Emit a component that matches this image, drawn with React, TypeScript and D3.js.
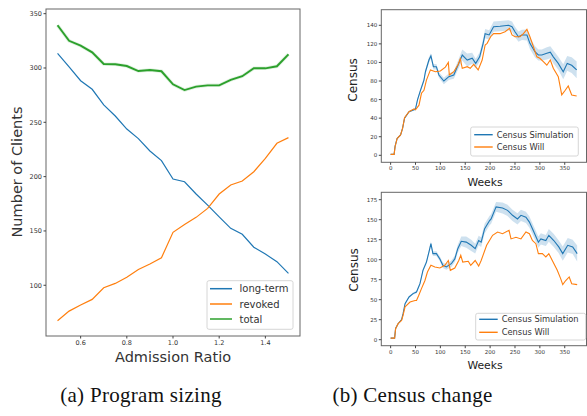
import React, { useEffect, useRef } from 'react';
import * as d3 from 'd3';

// (a) program sizing
const admissionRatio = [0.5, 0.55, 0.6, 0.65, 0.7, 0.75, 0.8, 0.85, 0.9, 0.95, 1.0, 1.05, 1.1, 1.15, 1.2, 1.25, 1.3, 1.35, 1.4, 1.45, 1.5];
const longTerm = [313.5, 301, 288.3, 280.4, 266, 255.8, 243.8, 235, 223.6, 214.7, 197.8, 195.3, 184, 173.8, 163, 152.4, 146.9, 135, 128.7, 121.7, 111];
const revoked = [67.3, 76.2, 81.8, 87, 97.7, 101.7, 107.3, 114.6, 119.5, 125.3, 148.7, 156, 162.5, 170.8, 184, 192.3, 196, 204.5, 216.8, 230.7, 235.9];
const total = [339.3, 325, 320.5, 314.4, 303.7, 303.4, 301.8, 297.2, 298.2, 297, 285, 279.7, 282.8, 284, 284, 289, 292.4, 299.7, 299.7, 301.6, 312.6];
const sizingTicksX = [0.6, 0.8, 1.0, 1.2, 1.4];
const sizingTicksY = [100, 150, 200, 250, 300, 350];

// (b) census change: [week, value, band half-width]
const simTop: number[][] = [
  [0, 1, 0], [7, 1, 0], [9, 10, 0], [13, 18, 0.5], [20, 22, 0.5], [24, 29, 0.5], [28, 40, 1], [37, 47, 1],
  [47, 49, 1], [50, 50, 1.5], [54, 59.6, 2], [60, 70, 2], [67, 81, 2.5], [70, 90, 2.5], [77, 102.6, 3],
  [81, 107, 3], [86, 95.4, 3], [92, 95.4, 3], [97, 86.5, 3], [107, 80, 3.5], [117, 84.7, 3.5], [127, 86.5, 4],
  [137, 99, 5], [144, 108, 6], [154, 102.6, 7], [164, 104.5, 6], [171, 99, 5], [179, 106, 5], [186, 120.6, 5],
  [190, 131, 5], [198, 129.6, 5], [207, 138.5, 5.5], [220, 139, 5.5], [237, 140, 5.5], [244, 138.5, 5.5],
  [250, 133, 5.5], [257, 127.7, 5.5], [264, 129.6, 5.5], [274, 129.6, 6], [280, 120.6, 6], [290, 111.6, 6],
  [297, 108, 6], [304, 108, 6], [314, 109.8, 6.5], [321, 111, 6.5], [327, 106, 7], [337, 99, 7], [347, 90, 8],
  [355, 99, 8], [364, 97, 8.5], [374, 92, 9],
];
const willTop: number[][] = [
  [0, 1], [7, 1], [9, 9.3], [13, 18], [20, 22], [24, 29], [28, 40.5], [37, 47], [47, 50], [50, 49], [57, 54],
  [62, 66.8], [67, 70], [72, 81], [80, 92], [90, 90], [100, 90.8], [110, 95], [116, 100], [118, 86.5], [127, 90],
  [136, 98], [140, 104], [144, 93.7], [154, 95.4], [160, 93.7], [167, 98], [176, 91.9], [184, 102.6], [190, 118.8],
  [194, 120.6], [201, 127.7], [207, 131], [220, 131], [230, 133], [239, 136.7], [244, 129.6], [250, 127.7],
  [260, 127.7], [267, 131], [274, 135.7], [280, 127.7], [287, 117], [294, 106], [300, 104.5], [307, 100.8],
  [314, 97], [321, 102.6], [327, 93.7], [337, 84.7], [344, 65], [351, 70], [357, 74.6], [364, 65], [374, 63.9],
];
const simBottom: number[][] = [
  [0, 2, 0], [8, 2, 0], [10, 14, 0.5], [15, 20, 0.5], [22, 25, 0.5], [25, 32.5, 1], [29, 45, 1], [37, 53.4, 1],
  [45, 57.6, 1.5], [52, 59.6, 1.5], [59, 70, 2], [65, 86.7, 2], [72, 97, 2.5], [77, 109.6, 2.5], [81, 120, 3],
  [85, 107.6, 3], [92, 107.6, 3], [99, 101, 3], [105, 93, 3.5], [112, 90.9, 3.5], [122, 95, 4], [129, 101, 4],
  [135, 113.8, 5], [142, 123, 6], [152, 122, 7], [162, 118, 7], [170, 113.8, 6], [177, 124, 6], [182, 122, 6],
  [189, 138.8, 6], [199, 149, 6], [202, 151, 6], [212, 166, 6], [225, 164.6, 7], [235, 161.7, 7], [245, 155.5, 7],
  [255, 151, 7], [262, 155.5, 7], [272, 153, 7], [279, 147, 7], [288, 134.6, 7], [297, 122, 7], [302, 126, 7],
  [312, 124, 7], [318, 130.5, 8], [328, 124, 8], [338, 116, 8], [346, 107.6, 9], [356, 118, 9], [366, 116, 9],
  [375, 107.6, 10],
];
const willBottom: number[][] = [
  [0, 2], [8, 2], [10, 13.8], [15, 20], [22, 24], [25, 30.5], [29, 41], [39, 47], [49, 49], [52, 49], [56, 54.6],
  [62, 63.8], [69, 74], [74, 84.6], [81, 93], [89, 90.9], [99, 89.6], [109, 93], [116, 99], [120, 86.7],
  [129, 89.6], [137, 99], [141, 105.5], [145, 97], [156, 98], [161, 93], [170, 99], [177, 92], [182, 99],
  [193, 118], [205, 130.5], [215, 134.6], [225, 132.5], [238, 136.7], [242, 126], [252, 128], [262, 126],
  [272, 134.6], [279, 132.5], [285, 124], [292, 120], [297, 107.6], [305, 107.6], [312, 103.4], [318, 107.6],
  [325, 99], [335, 86.7], [342, 76], [346, 68.8], [352, 74], [359, 78.4], [364, 70], [375, 68.8],
];
const weekTicks = [0, 50, 100, 150, 200, 250, 300, 350];
const censusTicksTop = [0, 20, 40, 60, 80, 100, 120, 140];
const censusTicksBottom = [0, 25, 50, 75, 100, 125, 150, 175];

const BLUE = '#1f77b4';
const ORANGE = '#ff7f0e';
const GREEN = '#2ca02c';
const FONT = 'DejaVu Sans';

const App = () => {
  const ref = useRef<SVGSVGElement>(null);

  useEffect(() => {
    const svg = d3.select(ref.current);
    svg.selectAll('*').remove();

    // draws axes frame + ticks
    const frame = (g: any, x: any, y: any, xt: number[], yt: number[], fs: number, fmtX: (v: number) => string) => {
      const [x0, x1] = x.range();
      const [y0, y1] = y.range();
      g.append('rect').attr('x', x0).attr('y', y1).attr('width', x1 - x0).attr('height', y0 - y1)
        .attr('fill', 'none').attr('stroke', '#666').attr('stroke-width', 1);
      xt.forEach(t => {
        g.append('line').attr('x1', x(t)).attr('x2', x(t)).attr('y1', y0).attr('y2', y0 + 2.5).attr('stroke', '#444');
        g.append('text').attr('x', x(t)).attr('y', y0 + 4 + fs * 0.75).attr('text-anchor', 'middle')
          .attr('font-size', fs).attr('fill', '#333').text(fmtX(t));
      });
      yt.forEach(t => {
        g.append('line').attr('x1', x0 - 2.5).attr('x2', x0).attr('y1', y(t)).attr('y2', y(t)).attr('stroke', '#444');
        g.append('text').attr('x', x0 - 4).attr('y', y(t) + fs * 0.36).attr('text-anchor', 'end')
          .attr('font-size', fs).attr('fill', '#333').text(t);
      });
    };

    const legend = (g: any, bx: number, by: number, bw: number, bh: number, rows: any[], ys: number[], lx0: number, lx1: number, tx: number, fs: number) => {
      g.append('rect').attr('x', bx).attr('y', by).attr('width', bw).attr('height', bh).attr('rx', 2)
        .attr('fill', 'white').attr('fill-opacity', 0.85).attr('stroke', '#ccc').attr('stroke-width', 0.8);
      rows.forEach((r, i) => {
        g.append('line').attr('x1', lx0).attr('x2', lx1).attr('y1', ys[i]).attr('y2', ys[i])
          .attr('stroke', r.color).attr('stroke-width', r.w);
        g.append('text').attr('x', tx).attr('y', ys[i] + fs * 0.36).attr('font-size', fs).attr('fill', '#333').text(r.label);
      });
    };

    // ---- (a) program sizing
    const ga = svg.append('g').attr('font-family', FONT);
    const xa = d3.scaleLinear().domain([0.45, 1.55]).range([46, 300]);
    const ya = d3.scaleLinear().domain([53.3, 354.3]).range([336, 9]);
    const lineA = (vals: number[]) => d3.line<number>().x((d, i) => xa(admissionRatio[i])).y(d => ya(d))(vals);
    ga.append('path').attr('d', lineA(total)).attr('fill', 'none').attr('stroke', GREEN).attr('stroke-opacity', 0.15).attr('stroke-width', 3.5);
    ga.append('path').attr('d', lineA(longTerm)).attr('fill', 'none').attr('stroke', BLUE).attr('stroke-width', 1.2);
    ga.append('path').attr('d', lineA(revoked)).attr('fill', 'none').attr('stroke', ORANGE).attr('stroke-width', 1.2);
    ga.append('path').attr('d', lineA(total)).attr('fill', 'none').attr('stroke', GREEN).attr('stroke-width', 1.9);
    frame(ga, xa, ya, sizingTicksX, sizingTicksY, 6.5, v => v.toFixed(1));
    ga.append('text').attr('x', 173).attr('y', 362).attr('text-anchor', 'middle').attr('font-size', 14.5).attr('fill', '#333').text('Admission Ratio');
    ga.append('text').attr('transform', 'translate(22,172) rotate(-90)').attr('text-anchor', 'middle').attr('font-size', 14.5).attr('fill', '#333').text('Number of Clients');
    legend(ga, 207, 280.7, 86, 48.6, [
      { label: 'long-term', color: BLUE, w: 1.5 },
      { label: 'revoked', color: ORANGE, w: 1.5 },
      { label: 'total', color: GREEN, w: 1.5 },
    ], [288.7, 304, 319], 210, 232, 239.5, 10);

    // ---- (b) census panels
    const census = (sim: number[][], will: number[][], yDom: number[], yRange: number[], yt: number[], xl: number, labels: any) => {
      const g = svg.append('g').attr('font-family', FONT);
      const x = d3.scaleLinear().domain([-18.75, 393.75]).range([381.3, 586.5]);
      const y = d3.scaleLinear().domain(yDom).range(yRange);
      const area = d3.area<number[]>().x(d => x(d[0])).y0(d => y(d[1] - d[2])).y1(d => y(d[1] + d[2]));
      const line = d3.line<number[]>().x(d => x(d[0])).y(d => y(d[1]));
      g.append('path').attr('d', area(sim)).attr('fill', BLUE).attr('fill-opacity', 0.22);
      g.append('path').attr('d', line(sim)).attr('fill', 'none').attr('stroke', BLUE).attr('stroke-width', 1.1);
      g.append('path').attr('d', line(will)).attr('fill', 'none').attr('stroke', ORANGE).attr('stroke-width', 1.1);
      frame(g, x, y, weekTicks, yt, 5.5, v => String(v));
      g.append('text').attr('x', 485).attr('y', labels.weeksY).attr('text-anchor', 'middle').attr('font-size', 10.8).attr('fill', '#222').text('Weeks');
      g.append('text').attr('transform', `translate(${xl},${labels.censusY}) rotate(-90)`).attr('text-anchor', 'middle')
        .attr('font-size', 12).attr('fill', '#222').text('Census');
      legend(g, labels.lx, labels.ly, labels.lw, labels.lh, [
        { label: 'Census Simulation', color: BLUE, w: 1.4 },
        { label: 'Census Will', color: ORANGE, w: 1.4 },
      ], labels.rows, labels.lx + 3.5, labels.lx + 22, labels.lx + 26, 8.3);
    };
    census(simTop, willTop, [-7.54, 156.8], [162.3, 9.7], censusTicksTop, 356.5,
      { weeksY: 185.5, censusY: 80, lx: 470.7, ly: 127, lw: 107.6, lh: 29, rows: [134.7, 147] });
    census(simBottom, willBottom, [-7.5, 184.25], [345.7, 192.3], censusTicksBottom, 358,
      { weeksY: 369.3, censusY: 270, lx: 475.7, ly: 313.3, lw: 110, lh: 26.7, rows: [319.3, 332.3] });

    // captions
    const cap = svg.append('g').attr('font-family', 'Liberation Serif').attr('font-size', 21).attr('fill', '#111');
    cap.append('text').attr('x', 141).attr('y', 402).attr('text-anchor', 'middle').attr('letter-spacing', 0.3).text('(a) Program sizing');
    cap.append('text').attr('x', 412.5).attr('y', 402).attr('text-anchor', 'middle').attr('letter-spacing', 0.3).text('(b) Census change');
  }, []);

  return (
    <svg ref={ref} width={587} height={416} style={{ position: 'absolute', left: 0, top: 0, background: 'white' }} />
  );
};

export default App;
